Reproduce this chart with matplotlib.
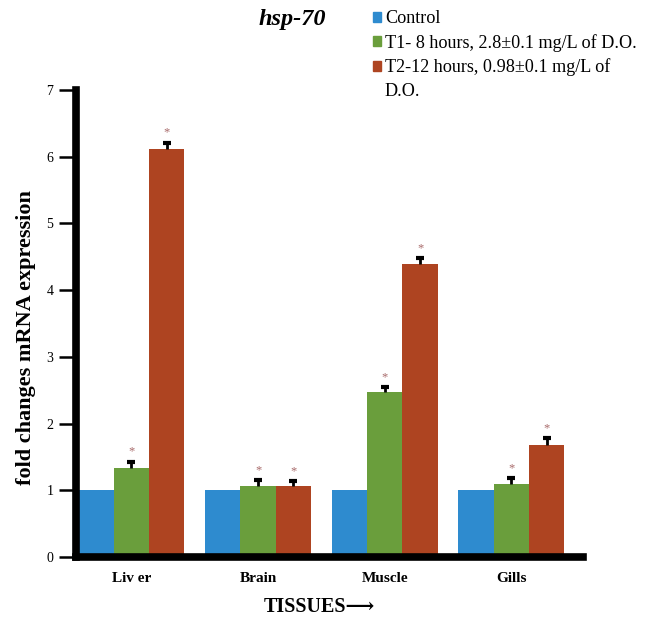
import matplotlib.pyplot as plt
import numpy as np
from matplotlib.patches import Patch

plt.rcParams['font.family'] = ['Liberation Serif', 'DejaVu Serif']

tissues = ['Liv er', 'Brain', 'Muscle', 'Gills']
control = [1.0, 1.0, 1.0, 1.0]
t1 = [1.34, 1.07, 2.47, 1.09]
t2 = [6.12, 1.06, 4.39, 1.68]
t1_err = [0.09, 0.08, 0.08, 0.09]
t2_err = [0.09, 0.08, 0.09, 0.10]
labels = ['Control', 'T1- 8 hours, 2.8\u00b10.1 mg/L of D.O.',
          'T2-12 hours, 0.98\u00b10.1 mg/L of', 'D.O.']
colors = ['#2E8BCF', '#6A9E3C', '#AE4421']

fig = plt.figure(figsize=(6.52, 6.19), dpi=100)
ax = fig.add_axes([0.1158, 0.1002, 0.778, 0.7544])

x = np.arange(len(tissues))
w = 0.279
ax.bar(x - w, control, w, color=colors[0])
ax.bar(x, t1, w, color=colors[1])
ax.bar(x + w, t2, w, color=colors[2])

for xs, vals, errs in [(x, t1, t1_err), (x + w, t2, t2_err)]:
    _, caps, _ = ax.errorbar(xs, vals, yerr=[np.zeros(len(vals)), errs], fmt='none',
                             ecolor='black', elinewidth=2, capsize=3.2, capthick=3)
    caps[0].set_visible(False)  # only the upper cap
    for xi, v, e in zip(xs, vals, errs):
        ax.text(xi, v + e + 0.06, '*', ha='center', va='bottom', fontsize=9, color='#A86A6A')

ax.set_xlim(-0.442, 3.563)
ax.set_ylim(0, 7)
ax.set_yticks(range(8))
ax.set_xticks(x)
ax.set_xticklabels(tissues, fontsize=11, fontweight='bold')
ax.tick_params(axis='x', length=0, pad=11)
ax.tick_params(axis='y', length=12, width=1.8, labelsize=10, pad=4)

for s in ['top', 'right']:
    ax.spines[s].set_visible(False)
for s in ['left', 'bottom']:
    ax.spines[s].set_linewidth(5.5)

ax.set_ylabel('fold changes mRNA expression', fontsize=16, fontweight='bold')
ax.yaxis.set_label_coords(-0.078, 0.47)
ax.set_xlabel('TISSUES\u27f6', fontsize=14.5, fontweight='bold')
ax.xaxis.set_label_coords(0.48, -0.085)

fig.text(0.448, 0.986, 'hsp-70', ha='center', va='top', fontsize=17.5,
         fontweight='bold', fontstyle='italic')

handles = [Patch(color=c) for c in colors] + [Patch(color='none')]
leg = fig.legend(handles, labels, loc='upper left', bbox_to_anchor=(0.564, 0.992),
                 frameon=False, fontsize=13.1, handlelength=0.45, handleheight=0.45,
                 handletextpad=0.2, labelspacing=0.36, borderaxespad=0.0, borderpad=0.3)

plt.savefig('out.png')
